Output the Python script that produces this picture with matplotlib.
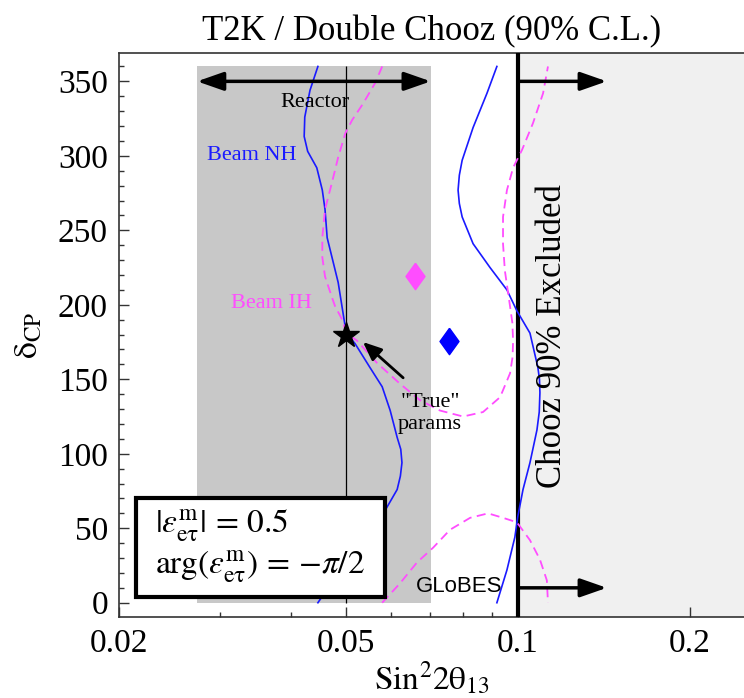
import matplotlib
matplotlib.use('Agg')
import matplotlib.pyplot as plt
from matplotlib.patches import Rectangle
from matplotlib.ticker import NullFormatter

plt.rcParams['font.family'] = ['Liberation Serif', 'DejaVu Serif']
plt.rcParams['mathtext.fontset'] = 'stix'

# Beam NH (solid blue), two branches
nh_left_s2 = [0.0446, 0.0432, 0.0423, 0.0422, 0.0428, 0.0444, 0.0454, 0.0459, 0.0463, 0.0472,
              0.0484, 0.0500, 0.0518, 0.0550, 0.0578, 0.0597, 0.0614, 0.0623, 0.0626, 0.0622,
              0.0614, 0.0589, 0.0551, 0.0508, 0.0474, 0.0446]
nh_left_dcp = [360, 344, 326, 313, 303, 292, 277, 264, 245, 232,
               215, 181, 174, 158, 145, 129, 111, 103, 94, 85,
               76, 64, 45, 29, 15, 0]
nh_right_s2 = [0.0918, 0.0882, 0.0834, 0.0798, 0.0789, 0.0785, 0.0789, 0.0798, 0.0834, 0.0893,
               0.0956, 0.0995, 0.1049, 0.1083, 0.1090, 0.1092, 0.1089, 0.1079, 0.1049, 0.1020,
               0.0999, 0.0987, 0.0956, 0.0918]
nh_right_dcp = [360, 342, 319, 297, 287, 277, 268, 259, 241, 225,
                210, 196, 181, 158, 150, 141, 128, 116, 94, 76,
                58, 44, 22, 0]

# Beam IH (dashed magenta), two branches
ih_top_s2 = [0.0578, 0.0562, 0.0535, 0.0512, 0.0498, 0.0484, 0.0472, 0.0459, 0.0454, 0.0454,
             0.0459, 0.0472, 0.0478, 0.0492, 0.0500, 0.0522, 0.0566, 0.0621, 0.0673, 0.0730,
             0.0801, 0.0868, 0.0930, 0.0968, 0.0978, 0.0980, 0.0977, 0.0968, 0.0948, 0.0941,
             0.0941, 0.0956, 0.0980, 0.1016, 0.1062, 0.1106, 0.1128]
ih_top_dcp = [360, 349, 335, 324, 315, 299, 282, 264, 245, 232,
              219, 205, 199, 190, 181, 176, 161, 147, 136, 129,
              125, 128, 138, 154, 165, 176, 188, 199, 223, 241,
              259, 277, 292, 304, 322, 342, 360]
ih_bot_s2 = [0.0578, 0.0621, 0.0665, 0.0710, 0.0760, 0.0824, 0.0886, 0.0941, 0.0995, 0.1049,
             0.1092, 0.1123, 0.1128]
ih_bot_dcp = [0, 13, 27, 37, 49, 57, 60, 57, 54, 42,
              29, 15, 0]

reactor_range = [0.0274, 0.0703]
reactor_dcp_max = 360
chooz_limit = 0.1
chooz_arrow_end = 0.143
arrow_dcp = [350, 10]
true_point = (0.05, 180)
fit_nh = (0.0757, 176)
fit_ih = (0.0660, 219)

fig = plt.figure(figsize=(7.44, 6.98), dpi=100)
ax = fig.add_axes([0.16, 0.116, 0.84, 0.808])
ax.set_xscale('log')
ax.set_xlim(0.02, 0.2487)
ax.set_ylim(-9.6, 369)

# excluded region and reactor band
ax.axvspan(chooz_limit, 1.0, color='#f0f0f0', zorder=0, lw=0)
ax.fill_between(reactor_range, 0, reactor_dcp_max, color='#c8c8c8', zorder=1, lw=0)
ax.axvline(chooz_limit, color='k', lw=3, zorder=3)
ax.vlines(true_point[0], 0, reactor_dcp_max, color='k', lw=0.9, zorder=2)

# contours
ax.plot(nh_left_s2, nh_left_dcp, color='#1a1aff', lw=1.2, zorder=4)
ax.plot(nh_right_s2, nh_right_dcp, color='#1a1aff', lw=1.2, zorder=4)
ax.plot(ih_top_s2, ih_top_dcp, color='#ff4dff', lw=1.3, dashes=(5, 3), zorder=4)
ax.plot(ih_bot_s2, ih_bot_dcp, color='#ff4dff', lw=1.3, dashes=(5, 3), zorder=4)

# markers
diamond = [(0, 1), (0.72, 0), (0, -1), (-0.72, 0), (0, 1)]
ax.plot(*fit_ih, marker=diamond, ms=19, color='#ff4dff', ls='none', zorder=5)
ax.plot(*fit_nh, marker=diamond, ms=19, color='#0000ff', ls='none', zorder=5)
ax.plot(*true_point, marker='*', ms=19, color='k', ls='none', zorder=6)

# arrows
ax.annotate('', xy=(reactor_range[1], arrow_dcp[0]), xytext=(reactor_range[0], arrow_dcp[0]),
            arrowprops=dict(arrowstyle='<|-|>,head_length=0.8,head_width=0.28', color='k',
                            lw=2.5, shrinkA=0, shrinkB=0, mutation_scale=20), zorder=5)
for yy in arrow_dcp:
    ax.annotate('', xy=(chooz_arrow_end, yy), xytext=(chooz_limit, yy),
                arrowprops=dict(arrowstyle='-|>,head_length=0.8,head_width=0.28', color='k',
                                lw=2.5, shrinkA=0, shrinkB=0, mutation_scale=20), zorder=5)
ax.annotate('', xy=(0.0535, 175), xytext=(0.0629, 151),
            arrowprops=dict(arrowstyle='-|>,head_length=0.7,head_width=0.3', color='k',
                            lw=2, shrinkA=0, shrinkB=0, mutation_scale=16), zorder=6)

# labels in the plot
ax.text(0.0441, 336, 'Reactor', fontsize=16, ha='center', va='center', zorder=6)
ax.text(0.0342, 300.5, 'Beam NH', fontsize=16, color='#1a1aff', ha='center', va='center', zorder=6)
ax.text(0.0370, 201, 'Beam IH', fontsize=16, color='#ff4dff', ha='center', va='center', zorder=6)
ax.text(0.0701, 127, '"True"\nparams', fontsize=16, ha='center', va='center',
        linespacing=1.15, zorder=6)
ax.text(0.0788, 11, 'GLoBES', fontsize=16, family='Liberation Sans', ha='center', va='center', zorder=6)
ax.text(0.1151, 179, 'Chooz 90% Excluded', fontsize=25, rotation=90, ha='center', va='center', zorder=6)

# parameter box
ax.add_patch(Rectangle((0.0272, 0.0355), 0.3984, 0.1755, transform=ax.transAxes,
                       facecolor='white', edgecolor='k', lw=3, zorder=10))
ax.text(0.0576, 0.162, r'$|\varepsilon^{\rm m}_{\rm e\tau}|\,=\,0.5$', transform=ax.transAxes,
        fontsize=24, va='center', ha='left', zorder=11)
ax.text(0.0576, 0.089, r'$\arg(\varepsilon^{\rm m}_{\rm e\tau})\,=\,{-\pi}/2$', transform=ax.transAxes,
        fontsize=24, va='center', ha='left', zorder=11)

# axes styling
ax.set_xticks([0.02, 0.05, 0.1, 0.2], ['0.02', '0.05', '0.1', '0.2'])
ax.set_xticks([0.03, 0.04, 0.06, 0.07, 0.08, 0.09], minor=True)
ax.xaxis.set_minor_formatter(NullFormatter())
ax.set_yticks(range(0, 351, 50))
ax.set_yticks(range(0, 361, 10), minor=True)
ax.tick_params(which='both', direction='in', top=False, right=False, labelsize=24,
               color='#333333', pad=8)
ax.tick_params(which='major', length=7, width=1)
ax.tick_params(which='minor', length=3.5, width=1)
for side in ['left', 'bottom', 'top']:
    ax.spines[side].set_color('#333333')
    ax.spines[side].set_linewidth(1.2)
ax.spines['right'].set_visible(False)

ax.set_title('T2K / Double Chooz (90% C.L.)', fontsize=25, pad=9)
ax.set_xlabel(r'$\mathrm{Sin^2 2\theta_{13}}$', fontsize=24, labelpad=1)
ax.set_ylabel(r'$\mathrm{\delta_{CP}}$', fontsize=24, labelpad=10)

fig.savefig('out.png', dpi=100)
